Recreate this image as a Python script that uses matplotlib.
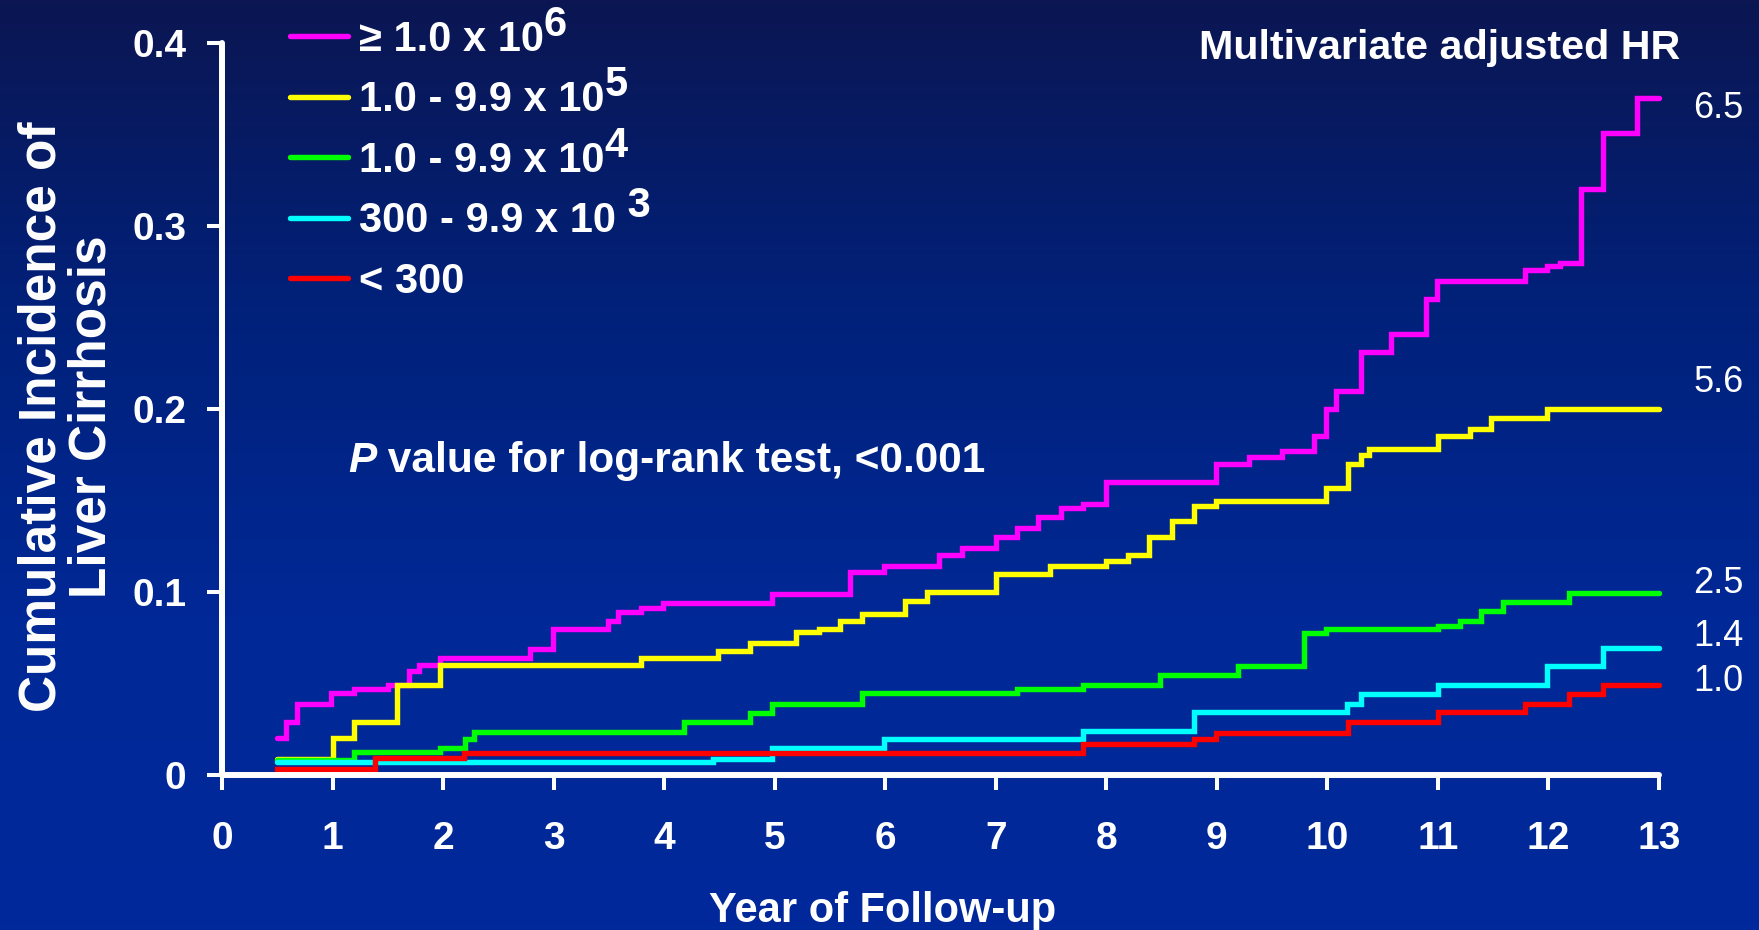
import numpy as np
import matplotlib.pyplot as plt
from matplotlib.colors import LinearSegmentedColormap
from matplotlib.lines import Line2D
from matplotlib.text import Annotation

plt.rcParams['font.family'] = ['Liberation Sans', 'DejaVu Sans']

# viral load groups (copies/mL)
group_labels = ['\u2265 1.0 x 10', '1.0 - 9.9 x 10', '1.0 - 9.9 x 10', '300 - 9.9 x 10', '< 300']
group_powers = ['6', '5', '4', ' 3', '']
group_colors = ['#ff00ff', '#ffff00', '#00ff00', '#00ffff', '#ff0000']

# multivariate adjusted hazard ratios, printed at the right end of each curve
hr_values = ['6.5', '5.6', '2.5', '1.4', '1.0']
hr_label_y = [0.364, 0.2145, 0.1046, 0.0755, 0.0513]

x_ticks = list(range(0, 14))
y_ticks = [0, 0.1, 0.2, 0.3, 0.4]
y_tick_labels = ['0', '0.1', '0.2', '0.3', '0.4']

# cumulative incidence, step times (years) and values
t_ge1e6 = [0.5, 0.58, 0.68, 0.99, 1.19, 1.50, 1.69, 1.78, 1.97, 2.79, 2.99, 3.49, 3.58,
           3.79, 3.99, 4.98, 5.68, 5.99, 6.49, 6.69, 7.00, 7.19, 7.38, 7.59, 7.79, 8.00,
           8.99, 9.29, 9.59, 9.88, 9.99, 10.08, 10.30, 10.58, 10.89, 10.99, 11.79, 11.99,
           12.10, 12.29, 12.49, 12.80, 13.0]
ci_ge1e6 = [0.020, 0.029, 0.039, 0.045, 0.047, 0.049, 0.057, 0.060, 0.064, 0.069, 0.080,
            0.084, 0.089, 0.091, 0.094, 0.099, 0.111, 0.114, 0.120, 0.124, 0.130, 0.135,
            0.141, 0.146, 0.148, 0.160, 0.170, 0.174, 0.177, 0.185, 0.200, 0.210, 0.231,
            0.241, 0.260, 0.270, 0.276, 0.278, 0.280, 0.320, 0.351, 0.370, 0.370]

t_1e5 = [0.5, 1.0, 1.19, 1.58, 1.97, 3.79, 4.49, 4.78, 5.19, 5.40, 5.59, 5.79, 6.18, 6.38,
         7.00, 7.49, 8.00, 8.20, 8.39, 8.59, 8.79, 8.99, 9.99, 10.19, 10.30, 10.38, 11.0,
         11.29, 11.48, 11.99, 13.0]
ci_1e5 = [0.009, 0.020, 0.029, 0.049, 0.060, 0.064, 0.068, 0.072, 0.078, 0.080, 0.084,
          0.088, 0.095, 0.100, 0.110, 0.114, 0.117, 0.120, 0.130, 0.139, 0.147, 0.150,
          0.157, 0.170, 0.175, 0.178, 0.185, 0.189, 0.195, 0.200, 0.200]

t_1e4 = [0.5, 1.19, 1.97, 2.20, 2.28, 4.18, 4.78, 4.98, 5.79, 7.19, 7.79, 8.49, 9.19, 9.79,
         9.99, 11.0, 11.2, 11.39, 11.59, 12.19, 13.0]
ci_1e4 = [0.008, 0.0126, 0.015, 0.0196, 0.0233, 0.0288, 0.0337, 0.039, 0.0447, 0.047,
          0.049, 0.0548, 0.0597, 0.0775, 0.080, 0.0813, 0.084, 0.0896, 0.0947, 0.0995, 0.0995]

t_300 = [0.5, 4.44, 4.98, 5.99, 7.79, 8.79, 10.18, 10.30, 11.0, 11.99, 12.49, 13.0]
ci_300 = [0.007, 0.009, 0.0145, 0.0196, 0.0242, 0.0345, 0.039, 0.0443, 0.049, 0.0593,
          0.0694, 0.0694]

t_lt300 = [0.5, 0.5, 1.38, 2.19, 7.79, 8.79, 8.99, 10.19, 11.0, 11.79, 12.19, 12.49, 13.0]
ci_lt300 = [0.0, 0.0035, 0.0093, 0.012, 0.0172, 0.0196, 0.0227, 0.0288, 0.0343, 0.039,
            0.0443, 0.049, 0.049]

series = [(t_ge1e6, ci_ge1e6), (t_1e5, ci_1e5), (t_1e4, ci_1e4), (t_300, ci_300), (t_lt300, ci_lt300)]

W, H = 1759, 930
fig = plt.figure(figsize=(W / 100, H / 100), dpi=100)

# slide background: dark navy at the top fading to royal blue
bg = fig.add_axes([0, 0, 1, 1], zorder=-10)
grad = np.linspace(0, 1, 256).reshape(-1, 1)
cmap = LinearSegmentedColormap.from_list('slide', ['#0b1652', '#01217a', '#002896', '#00299b'])
bg.imshow(grad, aspect='auto', cmap=cmap, extent=[0, 1, 0, 1], origin='upper')
bg.axis('off')

ax = fig.add_axes([222 / W, 1 - 775 / H, (1659 - 222) / W, (775 - 43) / H])
ax.patch.set_alpha(0)

for (t, ci), col in zip(series, group_colors):
    ax.plot(t, ci, drawstyle='steps-post', color=col, lw=3.9,
            solid_capstyle='round', solid_joinstyle='miter', clip_on=False)

ax.set_xlim(0, 13)
ax.set_ylim(0, 0.4)
ax.set_xticks(x_ticks)
ax.set_xticklabels([str(v) for v in x_ticks])
ax.set_yticks(y_ticks)
ax.set_yticklabels(y_tick_labels)

for side in ['top', 'right']:
    ax.spines[side].set_visible(False)
for side in ['left', 'bottom']:
    ax.spines[side].set_color('white')
    ax.spines[side].set_linewidth(4.3)
    ax.spines[side].set_capstyle('round')

ax.tick_params(axis='both', colors='white', direction='out', length=10.8, width=2.9)
ax.tick_params(axis='x', pad=22, labelsize=28)
ax.tick_params(axis='y', pad=15, labelsize=28)
for lab in ax.get_xticklabels() + ax.get_yticklabels():
    lab.set_fontweight('bold')

# hazard ratio labels
for y, hr in zip(hr_label_y, hr_values):
    ax.text(13.31, y, hr, fontsize=26, color='white', ha='left', va='center', clip_on=False)

fig.text(1440 / W, 1 - 48 / H, 'Multivariate adjusted HR', fontsize=29.7, fontweight='bold',
         color='white', ha='center', va='center')

# P value note: italic P followed by upright text
p_txt = fig.text(348 / W, 1 - 461 / H, 'P', fontsize=30.5, fontweight='bold', fontstyle='italic',
                 color='white', ha='left', va='center')
ax.annotate(' value for log-rank test, <0.001', xy=(1, 0), xycoords=p_txt,
            fontsize=30.5, fontweight='bold', color='white', ha='left', va='bottom')

fig.text(67 / W, 1 - 417 / H, 'Cumulative Incidence of\nLiver Cirrhosis', rotation=90,
         fontsize=37, fontweight='bold', color='white', ha='center', va='center',
         multialignment='center', linespacing=1.05)
fig.text(883 / W, 1 - 922 / H, 'Year of Follow-up', fontsize=30, fontweight='bold',
         color='white', ha='center', va='baseline')

handles = [Line2D([0], [0], color=c, lw=3.9, solid_capstyle='round') for c in group_colors]
leg = fig.legend(handles, group_labels, loc='upper left', bbox_to_anchor=(290 / W, 1 - 20 / H),
                 frameon=False, fontsize=30, handlelength=1.4, handletextpad=0.25,
                 labelspacing=0.49, borderpad=0, borderaxespad=0)
for txt in leg.get_texts():
    txt.set_color('white')
    txt.set_fontweight('bold')

# lay out the legend once so the exponents can be placed after each label
fig.canvas.draw()
for txt, pw in zip(leg.get_texts(), group_powers):
    if pw:
        sup = Annotation(pw, xy=(1, 0), xycoords=txt, xytext=(0, 11), textcoords='offset points',
                         fontsize=30, fontweight='bold', color='white', ha='left', va='bottom',
                         annotation_clip=False, zorder=10)
        fig.add_artist(sup)

fig.savefig('out.png', dpi=100)
